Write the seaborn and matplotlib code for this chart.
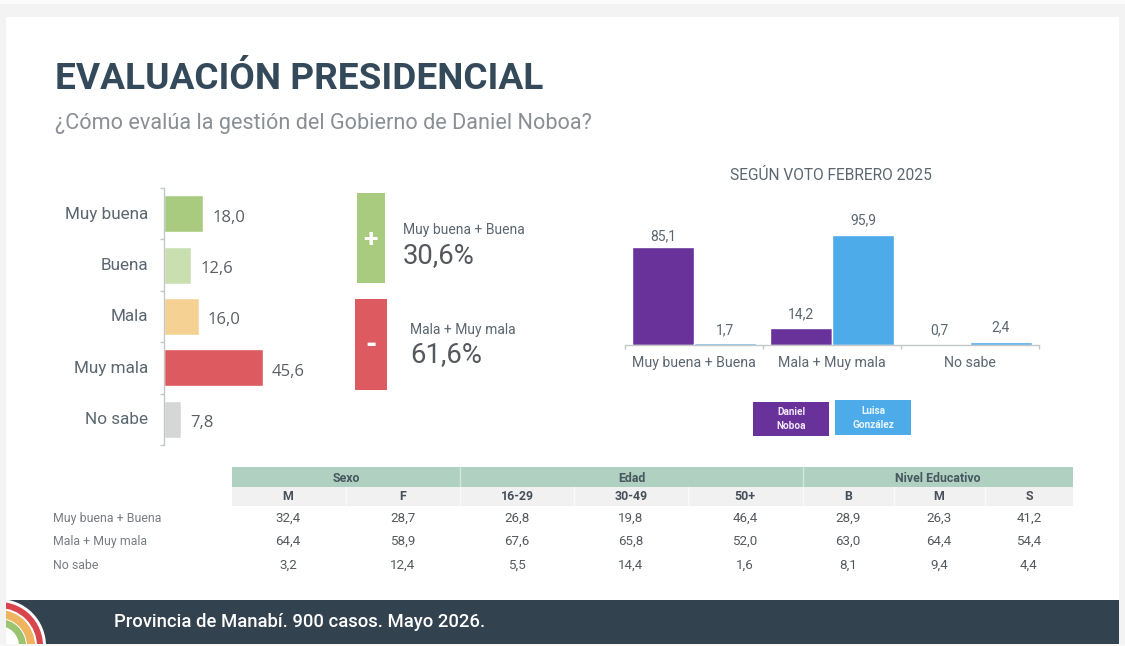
import numpy as np
import pandas as pd
import matplotlib
matplotlib.use("Agg")
import matplotlib.pyplot as plt
from matplotlib.patches import Rectangle, Wedge
from matplotlib.transforms import ScaledTranslation
import seaborn as sns

# ---------- data ----------
title = "EVALUACIÓN PRESIDENCIAL"
subtitle = "¿Cómo evalúa la gestión del Gobierno de Daniel Noboa?"
footer = "Provincia de Manabí. 900 casos. Mayo 2026."

eval_cats = ["Muy buena", "Buena", "Mala", "Muy mala", "No sabe"]
eval_vals = [18.0, 12.6, 16.0, 45.6, 7.8]
eval_cols = ["#a9cb80", "#cadfb0", "#f5d293", "#dc5a60", "#d6d6d6"]

vote_cats = ["Muy buena + Buena", "Mala + Muy mala", "No sabe"]
noboa_vals = [85.1, 14.2, 0.7]
gonzalez_vals = [1.7, 95.9, 2.4]
vote_names = ["Daniel Noboa", "Luisa González"]
vote_cols = ["#68329a", "#4dabea"]

pos_label, pos_val = "Muy buena + Buena", "30,6%"
neg_label, neg_val = "Mala + Muy mala", "61,6%"

groups = ["Sexo", "Edad", "Nivel Educativo"]
sub_cols = ["M", "F", "16-29", "30-49", "50+", "B", "M", "S"]
row_names = ["Muy buena + Buena", "Mala + Muy mala", "No sabe"]
row_pos = [32.4, 28.7, 26.8, 19.8, 46.4, 28.9, 26.3, 41.2]
row_neg = [64.4, 58.9, 67.6, 65.8, 52.0, 63.0, 64.4, 54.4]
row_ns = [3.2, 12.4, 5.5, 14.4, 1.6, 8.1, 9.4, 4.4]

def es(v):
    return f"{v:.1f}".replace(".", ",")

# ---------- canvas ----------
W, H = 1125, 646
sns.set_theme(style="white")
plt.rcParams["font.family"] = ["Roboto", "DejaVu Sans"]
GREY = "#f3f3f4"
fig = plt.figure(figsize=(W / 100, H / 100), dpi=100, facecolor=GREY)

def axes_px(x0, y0, x1, y1, **kw):
    return fig.add_axes([x0 / W, 1 - y1 / H, (x1 - x0) / W, (y1 - y0) / H], **kw)

bg = axes_px(0, 0, W, H)
bg.set_xlim(0, W); bg.set_ylim(H, 0); bg.axis("off"); bg.set_zorder(0)

TXT = "#5b6670"
DARK = "#33424f"
bg.add_patch(Rectangle((0, 0), W, 4, fc="#fbfbfb", ec="none"))
bg.add_patch(Rectangle((6, 17), 1113, 627, fc="white", ec="none"))
bg.add_patch(Rectangle((6, 600), 1113, 44, fc=DARK, ec="none"))
for r, c in zip([47, 44, 38, 36, 28, 27, 20],
                ["white", "#d9454d", "white", "#eeb45f", "white", "#9cc46f", "white"]):
    bg.add_patch(Wedge((-1, 646), r, -90, 0, fc=c, ec="none"))
bg.add_patch(Rectangle((0, 596), 6, 50, fc=GREY, ec="none"))
bg.add_patch(Rectangle((0, 644), W, 2, fc="#f7f7f7", ec="none"))

bg.text(55, 79, title, fontsize=26.65, fontweight="bold", color="#34495a", va="center", ha="left")
bg.text(55, 124, subtitle, fontsize=15.6, color="#8a8f94", va="center", ha="left")
bg.text(114, 622, footer, fontsize=13.35, color="white", va="center", ha="left", fontweight="medium")
bg.text(831, 175, "SEGÚN VOTO FEBRERO 2025", fontsize=11.2, color=TXT, va="center", ha="center")

# ---------- left bars ----------
ax = axes_px(164, 188, 164 + 217, 445)
ax.set_facecolor("none")
ax.set_zorder(2)
df = pd.DataFrame({"cat": eval_cats, "val": eval_vals})
sns.barplot(data=df, y="cat", x="val", hue="cat", palette=eval_cols, hue_order=eval_cats,
            order=eval_cats, width=0.72, legend=False, saturation=1, ax=ax)
ax.set_xlim(0, 100); ax.set_ylim(4.5, -0.5)
ax.set_xlabel(""); ax.set_ylabel("")
ax.xaxis.set_visible(False)
sns.despine(ax=ax, top=True, right=True, bottom=True)
ax.spines["left"].set_color("#c4c7ca"); ax.spines["left"].set_linewidth(1)
ax.set_yticks(np.arange(-0.5, 5), minor=True)
ax.tick_params(axis="y", which="minor", length=3, color="#c4c7ca", width=1, left=True)
ax.tick_params(axis="y", which="major", length=0, pad=11.5, labelsize=12.3, labelcolor=TXT)
shift = ScaledTranslation(0, 1 / 100, fig.dpi_scale_trans)
for lab in ax.get_yticklabels():
    lab.set_transform(lab.get_transform() + shift)
for i, v in enumerate(eval_vals):
    ax.annotate(es(v), (v, i), xytext=(6.5, -2.8), textcoords="offset points",
                va="center", ha="left", fontsize=12, color="#5a5f64", family="Open Sans")

# ---------- sign boxes ----------
bg.add_patch(Rectangle((357, 193), 28, 90, fc="#a9cb80", ec="none"))
bg.add_patch(Rectangle((355, 299), 32, 91, fc="#dc5a60", ec="none"))
bg.text(370, 240, "+", fontsize=19, fontweight="bold", color="white", ha="center", va="center")
bg.text(371, 345, "-", fontsize=21, fontweight="bold", color="white", ha="center", va="center")
bg.text(403, 230, pos_label, fontsize=10, color=TXT, va="center")
bg.text(403, 256, pos_val, fontsize=19.8, color="#55595d", va="center")
bg.text(410, 330, neg_label, fontsize=10, color=TXT, va="center")
bg.text(410, 355, neg_val, fontsize=19.8, color="#55595d", va="center")

# ---------- right bars ----------
ax2 = axes_px(625, 230.5, 1039, 344.5)
ax2.set_facecolor("none")
ax2.set_zorder(2)
long = pd.DataFrame({
    "cat": vote_cats * 2,
    "who": [vote_names[0]] * 3 + [vote_names[1]] * 3,
    "val": noboa_vals + gonzalez_vals,
})
sns.barplot(data=long, x="cat", y="val", hue="who", palette=vote_cols, order=vote_cats,
            hue_order=vote_names, width=0.9, gap=0, legend=False, saturation=1, ax=ax2)
ax2.set_ylim(0, 100); ax2.set_xlim(-0.5, 2.5)
ax2.set_xlabel(""); ax2.set_ylabel("")
ax2.yaxis.set_visible(False)
sns.despine(ax=ax2, top=True, right=True, left=True)
ax2.spines["bottom"].set_color("#c4c7ca"); ax2.spines["bottom"].set_linewidth(1)
ax2.set_xticks(np.arange(-0.5, 3), minor=True)
ax2.tick_params(axis="x", which="minor", length=3, color="#c4c7ca", width=1, bottom=True)
ax2.tick_params(axis="x", which="major", length=0, pad=8, labelsize=10.2, labelcolor=TXT)
lifts = [[8, 10, 10], [8.5, 10.5, 10.5]]  # label offsets above each bar, in points
for cont, lift in zip(ax2.containers, lifts):
    for bar, up in zip(cont, lift):
        h = bar.get_height()
        ax2.annotate(es(h), (bar.get_x() + bar.get_width() / 2, h), xytext=(0, up),
                     textcoords="offset points", ha="center", va="center",
                     fontsize=10, color=TXT)

# legend boxes
bg.add_patch(Rectangle((753, 402), 76, 34, fc=vote_cols[0], ec="none"))
bg.add_patch(Rectangle((835, 400), 76, 35, fc=vote_cols[1], ec="none"))
bg.text(791, 419, "Daniel\nNoboa", fontsize=7.2, fontweight="bold", color="#f0e6f8",
        ha="center", va="center", linespacing=1.4)
bg.text(873, 418, "Luisa\nGonzález", fontsize=7.2, fontweight="bold", color="#e8f5fd",
        ha="center", va="center", linespacing=1.4)

# ---------- table ----------
edges = [232, 346, 460, 574, 688, 803, 894, 985, 1073]
group_spans = [(0, 2), (2, 5), (5, 8)]
bg.add_patch(Rectangle((232, 467), 841, 19.5, fc="#b0d0c2", ec="none"))
bg.add_patch(Rectangle((232, 487), 841, 18.5, fc="#f1f1f1", ec="none"))
for a in edges[1:-1]:
    bg.plot([a, a], [487, 505], color="#fafafa", lw=1)
for name, (a, b) in zip(groups, group_spans):
    bg.text((edges[a] + edges[b]) / 2, 478, name, fontsize=8.9, fontweight="bold",
            color="#47585f", ha="center", va="center")
    if b < 8:
        bg.plot([edges[b]] * 2, [467, 486], color="#d5e6de", lw=1)
centers = [288, 403, 517, 631, 745, 848, 939, 1029]
for c, s in zip(centers, sub_cols):
    bg.text(c, 497, s, fontsize=8.9, fontweight="bold", color="#47505a", ha="center", va="center")
for y, name, row in zip([518.5, 541.5, 565.5], row_names, [row_pos, row_neg, row_ns]):
    bg.text(53, y, name, fontsize=8.9, color="#777d83", va="center", ha="left")
    for c, v in zip(centers, row):
        bg.text(c, y, es(v), fontsize=9.6, color="#55595d", ha="center", va="center")

fig.savefig("out.png", dpi=100, facecolor=fig.get_facecolor())
